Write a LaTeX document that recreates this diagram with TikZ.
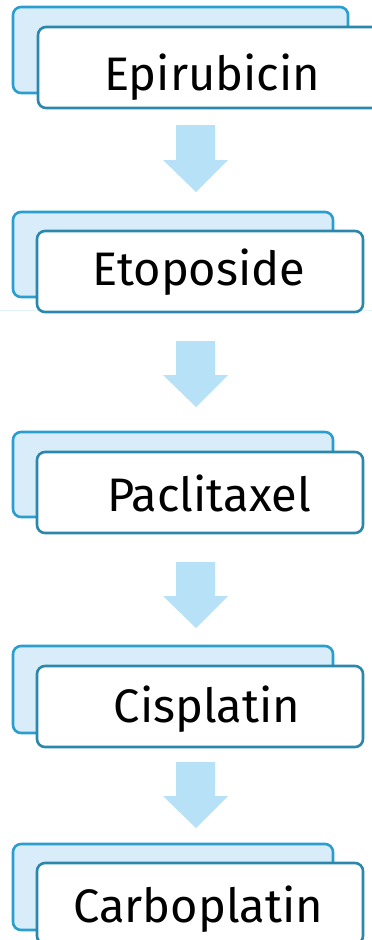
\documentclass[tikz,border=0pt]{standalone}
\usepackage{fontspec}
\setmainfont{Fira Sans}
\definecolor{backfill}{HTML}{D8EDF9}
\definecolor{backline}{HTML}{2A9FCF}
\definecolor{frontline}{HTML}{2B88AA}
\definecolor{arrowfill}{HTML}{B6E1F6}
\definecolor{faintline}{HTML}{E3F1F9}
\begin{document}
\begin{tikzpicture}[x=1pt,y=-1pt,
  backbox/.style={draw=backline, fill=backfill, line width=2.6pt, rounded corners=8pt,
    outer sep=0pt, inner sep=0pt, anchor=north west},
  frontbox/.style={draw=frontline, fill=white, line width=2.6pt, rounded corners=8pt,
    outer sep=0pt, inner sep=0pt, anchor=north west},
  drugname/.style={anchor=base, inner sep=0pt, font=\fontsize{47}{56}\selectfont},
  flowarrow/.style={fill=arrowfill}]
\useasboundingbox (0,0) rectangle (372,940);

% faint rule crossing under the second card
\draw[faintline, line width=1pt] (0,310) -- (372,310);

% card 1
\node[backbox, minimum width=335pt, minimum height=86pt] (b1) at (13,7) {};
\node[frontbox, minimum width=360pt, minimum height=81pt] (f1) at (38,27) {};
\node[drugname] (t1) at (212,90) {Epirubicin};

% card 2
\node[backbox, minimum width=320pt, minimum height=85pt] (b2) at (13,212) {};
\node[frontbox, minimum width=326pt, minimum height=81pt] (f2) at (37,231) {};
\node[drugname] (t2) at (199,285) {Etoposide};

% card 3
\node[backbox, minimum width=320pt, minimum height=85pt] (b3) at (13,432) {};
\node[frontbox, minimum width=326pt, minimum height=81pt] (f3) at (37,452) {};
\node[drugname] (t3) at (209,511) {Paclitaxel};

% card 4
\node[backbox, minimum width=320pt, minimum height=87pt] (b4) at (13,646) {};
\node[frontbox, minimum width=326pt, minimum height=81pt] (f4) at (37,666) {};
\node[drugname] (t4) at (207,722) {Cisplatin};

% card 5
\node[backbox, minimum width=320pt, minimum height=86pt] (b5) at (13,844) {};
\node[frontbox, minimum width=326pt, minimum height=81pt] (f5) at (37,863) {};
\node[drugname] (t5) at (198,922) {Carboplatin};

% block arrows between the cards
\foreach \top/\neck/\tip in {125/160/192, 341/375/407, 562/596/628, 762/796/828}{
  \fill[flowarrow] (176,\top) -- (215,\top) -- (215,\neck) -- (228,\neck)
    -- (196,\tip) -- (163,\neck) -- (176,\neck) -- cycle;
}
\end{tikzpicture}
\end{document}
